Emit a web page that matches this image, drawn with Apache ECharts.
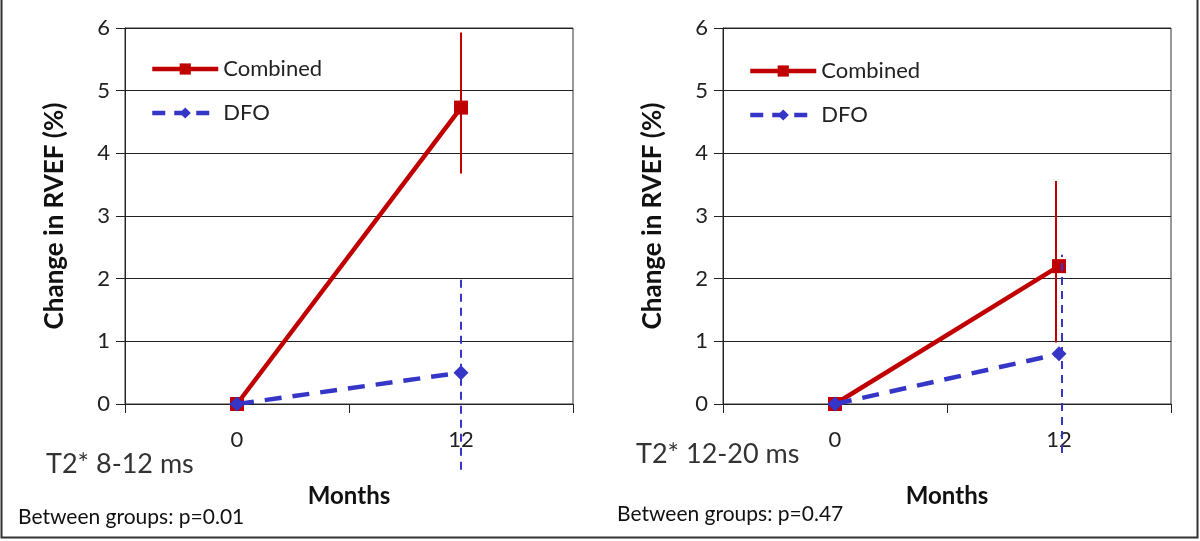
<!DOCTYPE html>
<html>
<head>
<meta charset="utf-8">
<script src="https://cdn.jsdelivr.net/npm/echarts@6/dist/echarts.min.js"></script>
<style>
html,body{margin:0;padding:0;background:#fff;}
#chart{width:1200px;height:541px;}
</style>
</head>
<body>
<div id="chart"></div>
<script>
// ---- data ----
const months = ['0', '12'];
const yTickMax = 6;
const seriesNames = ['Combined', 'DFO'];

// Panel A: T2* 8-12 ms
const panelA_title = 'T2* 8-12 ms';
const panelA_note = 'Between groups: p=0.01';
const panelA_combined = [0, 4.73];
const panelA_combinedLow = [null, 3.68];
const panelA_combinedHigh = [null, 5.93];
const panelA_dfo = [0, 0.5];
const panelA_dfoLow = [null, -1.05];
const panelA_dfoHigh = [null, 2.08];

// Panel B: T2* 12-20 ms
const panelB_title = 'T2* 12-20 ms';
const panelB_note = 'Between groups: p=0.47';
const panelB_combined = [0, 2.2];
const panelB_combinedLow = [null, 0.98];
const panelB_combinedHigh = [null, 3.56];
const panelB_dfo = [0, 0.8];
const panelB_dfoLow = [null, -0.78];
const panelB_dfoHigh = [null, 2.38];

// ---- styling ----
const FONT = 'Lato';
const RED = '#c00000';
const BLUE = '#3535c8';

function errData(low, high) {
  const out = [];
  for (let i = 0; i < low.length; i++) {
    if (low[i] != null && high[i] != null) out.push([i, low[i], high[i]]);
  }
  return out;
}

function errorSeries(idx, low, high, color, dashed, dx) {
  return {
    type: 'custom',
    xAxisIndex: idx, yAxisIndex: idx,
    clip: false,
    silent: true,
    z: 3,
    data: errData(low, high),
    renderItem: function (params, api) {
      const x = api.value(0);
      const p1 = api.coord([x, api.value(1)]);
      const p2 = api.coord([x, api.value(2)]);
      return {
        type: 'line',
        shape: { x1: p1[0] + dx, y1: p1[1], x2: p2[0] + dx, y2: p2[1] },
        style: { stroke: color, lineWidth: 2, lineDash: dashed ? [8, 6] : null }
      };
    }
  };
}

function lineSeries(idx, name, data) {
  const isComb = name === 'Combined';
  return {
    type: 'line', name: name,
    xAxisIndex: idx, yAxisIndex: idx,
    data: data,
    symbol: isComb ? 'rect' : 'diamond',
    symbolSize: isComb ? 14 : 15,
    z: isComb ? 2 : 4,
    lineStyle: { color: isComb ? RED : BLUE, width: 4.5, type: isComb ? 'solid' : [17, 11] },
    itemStyle: { color: isComb ? RED : BLUE },
    emphasis: { disabled: true },
    animation: false
  };
}

const grids = [
  { left: 125, top: 28, width: 448, height: 376, show: true, borderColor: '#333', borderWidth: 1 },
  { left: 723, top: 28, width: 448, height: 376, show: true, borderColor: '#333', borderWidth: 1 }
];

function xAxisFor(idx) {
  return {
    type: 'category', gridIndex: idx, data: months, boundaryGap: true,
    axisLine: { lineStyle: { color: '#222', width: 1 } },
    axisTick: { show: true, length: 9, alignWithLabel: false, lineStyle: { color: '#222' } },
    axisLabel: { fontFamily: FONT, fontSize: 22, color: '#222', margin: 25 },
    name: 'Months', nameLocation: 'middle', nameGap: 80,
    nameTextStyle: { fontFamily: FONT, fontSize: 24, fontWeight: 'bold', color: '#111' }
  };
}

function yAxisFor(idx) {
  return {
    type: 'value', gridIndex: idx, min: 0, max: yTickMax, interval: 1,
    axisLine: { show: true, lineStyle: { color: '#222', width: 1 } },
    axisTick: { show: true, length: 9, lineStyle: { color: '#222' } },
    splitLine: { show: true, lineStyle: { color: '#222', width: 1 } },
    axisLabel: { fontFamily: FONT, fontSize: 22, color: '#222', margin: 15 },
    name: 'Change in RVEF (%)', nameLocation: 'middle', nameGap: 57, nameRotate: 90,
    nameTextStyle: { fontFamily: FONT, fontSize: 26, fontWeight: 'bold', color: '#111' }
  };
}

function legendFor(left, top) {
  return {
    show: true, orient: 'vertical', left: left, top: top, padding: 0,
    data: [
      { name: 'Combined', lineStyle: { width: 4.5 } },
      { name: 'DFO', lineStyle: { width: 4.5, type: [13, 9] } }
    ],
    itemWidth: 66, itemHeight: 14, itemGap: 22,
    textStyle: { fontFamily: FONT, fontSize: 22, color: '#222' },
    selectedMode: false
  };
}

const option = {
  backgroundColor: '#fff',
  animation: false,
  grid: grids,
  xAxis: [xAxisFor(0), xAxisFor(1)],
  yAxis: [yAxisFor(0), yAxisFor(1)],
  legend: [legendFor(150, 58), legendFor(748, 60)],
  series: [
    lineSeries(0, 'Combined', panelA_combined),
    lineSeries(0, 'DFO', panelA_dfo),
    errorSeries(0, panelA_combinedLow, panelA_combinedHigh, RED, false, 0),
    errorSeries(0, panelA_dfoLow, panelA_dfoHigh, BLUE, true, 0),
    lineSeries(1, 'Combined', panelB_combined),
    lineSeries(1, 'DFO', panelB_dfo),
    errorSeries(1, panelB_combinedLow, panelB_combinedHigh, RED, false, -3),
    errorSeries(1, panelB_dfoLow, panelB_dfoHigh, BLUE, true, 3)
  ],
  graphic: [
    { type: 'text', left: 46, top: 451, style: { text: panelA_title, fontFamily: FONT, fontSize: 27, fill: '#333' } },
    { type: 'text', left: 636, top: 441, style: { text: panelB_title, fontFamily: FONT, fontSize: 27, fill: '#333' } },
    { type: 'text', left: 18, top: 507, style: { text: panelA_note, fontFamily: FONT, fontSize: 21, fill: '#111' } },
    { type: 'text', left: 617, top: 504, style: { text: panelB_note, fontFamily: FONT, fontSize: 21, fill: '#111' } },
    { type: 'polyline', shape: { points: [[1.5, 0], [1.5, 537.5], [1197.5, 537.5], [1197.5, 0]] }, style: { stroke: '#333', lineWidth: 2, fill: null } }
  ]
};

const chart = echarts.init(document.getElementById('chart'), null, { renderer: 'canvas' });
chart.setOption(option);
</script>
</body>
</html>
